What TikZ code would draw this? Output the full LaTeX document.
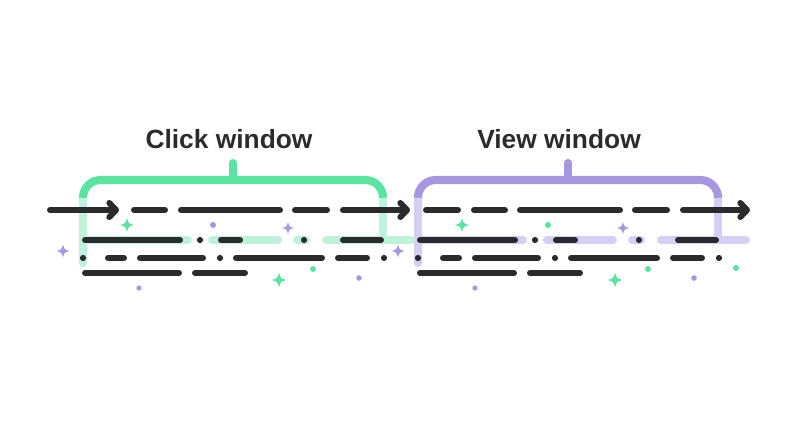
\documentclass[tikz,border=0pt]{standalone}
\usepackage{fontspec}
\setmainfont{Liberation Sans}
\usepackage{tikz}
\definecolor{colorgreen}{HTML}{5BE3A1}
\definecolor{colorgreentint}{HTML}{BFF2DA}
\definecolor{colorpurple}{HTML}{A797E3}
\definecolor{colorpurpletint}{HTML}{D6CFF3}
\definecolor{colorink}{HTML}{2B2B2D}
\usetikzlibrary{arrows.meta, positioning}

\begin{document}
\begin{tikzpicture}[x=0.02cm, y=-0.02cm]

  \tikzstyle{track} = [%
  draw=colorink,
  line cap=round,
  line width=3.4pt,
  ];
  \tikzstyle{band} = [%
  line cap=round,
  line width=4.6pt,
  ];
  \tikzstyle{title} = [%
  anchor=base,
  font=\bfseries\fontsize{15}{18}\selectfont,
  text=colorink,
  ];
  \tikzstyle{head} = [-{Straight Barb[round, length=3.8pt, width=8pt]}];

  \tikzset{sparkle/.pic={
      \fill (0,-1) .. controls (0.22,-0.22) .. (1,0)
        .. controls (0.22,0.22) .. (0,1)
        .. controls (-0.22,0.22) .. (-1,0)
        .. controls (-0.22,-0.22) .. (0,-1) -- cycle;
    }
  }

  \useasboundingbox (0,0) rectangle (800,420);

  % the two windows share one layout
  \foreach \dx/\wincol/\wintint in {0/colorgreen/colorgreentint, 335/colorpurple/colorpurpletint} {
    \begin{scope}[shift={(\dx,0)}]
      % tinted bands behind the second row
      \draw[band, \wintint] (86,240) -- (188,240);
      \draw[band, \wintint] (212,240) -- (278,240);
      \draw[band, \wintint] (297,240) -- (306,240);
      \draw[band, \wintint] (326,240) -- (411,240);
      % bracket
      \draw[band, \wintint] (83,195) -- (83,263);
      \draw[band, \wintint] (383,195) -- (383,240);
      \draw[band, \wincol, line cap=butt, rounded corners=10]
        (83,196) -- (83,180) -- (383,180) -- (383,196);
      \draw[band, \wincol] (233,163) -- (233,180);
      % second row
      \draw[track] (85,240) -- (180,240);
      \fill[colorink] (200,240) circle (3.1);
      \draw[track] (221,240) -- (240,240);
      \fill[colorink] (304,240) circle (3.1);
      \draw[track] (343,240) -- (381,240);
      % third row
      \fill[colorink] (83,258) circle (3.1);
      \draw[track] (108,258) -- (124,258);
      \draw[track] (140,258) -- (203,258);
      \fill[colorink] (220,258) circle (3.1);
      \draw[track] (236,258) -- (322,258);
      \draw[track] (338,258) -- (367,258);
      \fill[colorink] (384,258) circle (3.1);
      % fourth row
      \draw[track] (85,273) -- (179,273);
      \draw[track] (195,273) -- (245,273);
    \end{scope}
  }

  % timeline
  \draw[track, head] (50,210) -- (119,210);
  \draw[track] (134,210) -- (165,210);
  \draw[track] (181,210) -- (280,210);
  \draw[track] (295,210) -- (327,210);
  \draw[track, head] (343,210) -- (410,210);
  \draw[track] (426,210) -- (458,210);
  \draw[track] (474,210) -- (505,210);
  \draw[track] (520,210) -- (620,210);
  \draw[track] (635,210) -- (667,210);
  \draw[track, head] (683,210) -- (750,210);

  % titles
  \node[title] (clicktitle) at (229,148) {Click window};
  \node[title] (viewtitle) at (559,148) {View window};

  % sparkles and dots
  \pic[colorgreen, scale=7] at (127,225) {sparkle};
  \pic[colorpurple, scale=6] at (288,228) {sparkle};
  \pic[colorgreen, scale=7.5] at (279,280) {sparkle};
  \pic[colorpurple, scale=6.5] at (63,251) {sparkle};
  \pic[colorpurple, scale=6.5] at (398,251) {sparkle};
  \pic[colorgreen, scale=7] at (462,225) {sparkle};
  \pic[colorpurple, scale=6] at (623,228) {sparkle};
  \pic[colorgreen, scale=7.5] at (615,280) {sparkle};
  \fill[colorpurple] (213,225) circle (3);
  \fill[colorgreen] (313,269) circle (3);
  \fill[colorpurple] (359,278) circle (2.8);
  \fill[colorpurple] (139,288) circle (2.6);
  \fill[colorgreen] (548,225) circle (3);
  \fill[colorgreen] (648,269) circle (3);
  \fill[colorpurple] (694,278) circle (2.8);
  \fill[colorpurple] (475,288) circle (2.6);
  \fill[colorgreen] (736,268) circle (3);

\end{tikzpicture}
\end{document}
